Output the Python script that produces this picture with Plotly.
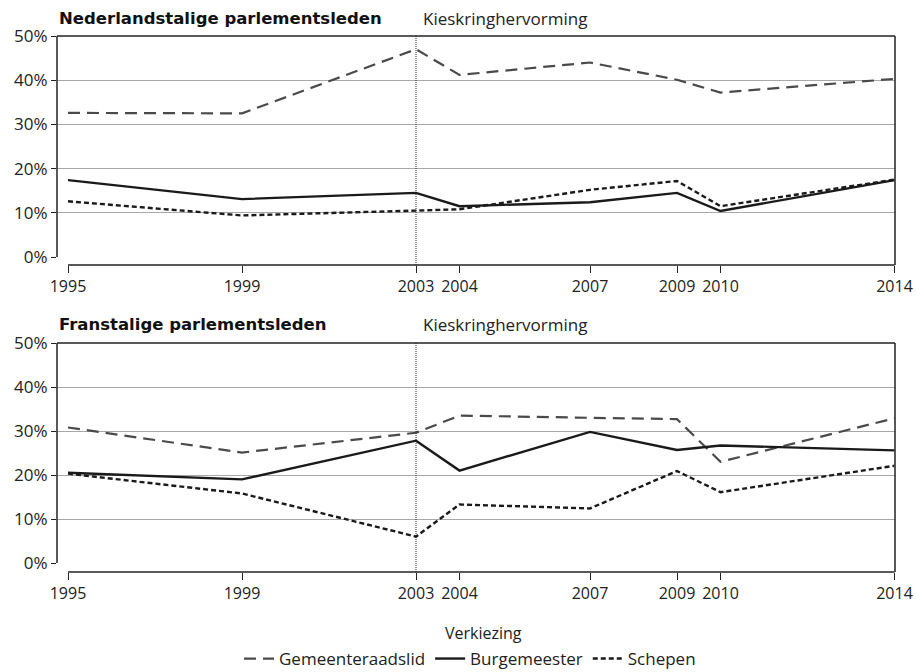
import plotly.graph_objects as go

years = [1995, 1999, 2003, 2004, 2007, 2009, 2010, 2014]
series_names = ["Gemeenteraadslid", "Burgemeester", "Schepen"]

nl_gemeenteraadslid = [32.6, 32.5, 47.0, 41.2, 44.0, 40.1, 37.2, 40.3]
nl_burgemeester = [17.4, 13.1, 14.5, 11.5, 12.4, 14.5, 10.4, 17.4]
nl_schepen = [12.6, 9.4, 10.5, 10.8, 15.2, 17.2, 11.5, 17.5]

fr_gemeenteraadslid = [30.8, 25.1, 29.6, 33.5, 33.0, 32.7, 23.0, 32.9]
fr_burgemeester = [20.5, 19.0, 27.8, 21.0, 29.8, 25.7, 26.7, 25.6]
fr_schepen = [20.3, 15.8, 6.0, 13.3, 12.4, 20.9, 16.1, 22.1]

panel_titles = ["Nederlandstalige parlementsleden", "Franstalige parlementsleden"]
reform_label = "Kieskringhervorming"
reform_year = 2003
x_title = "Verkiezing"
y_ticks = [0, 10, 20, 30, 40, 50]
y_ticklabels = ["0%", "10%", "20%", "30%", "40%", "50%"]

styles = [
    dict(color="#4a4a4a", width=2.2, dash="12px,7px"),
    dict(color="#1a1a1a", width=2.4, dash="solid"),
    dict(color="#1a1a1a", width=2.4, dash="5px,3px"),
]

W, H = 916, 672
FONT = "Open Sans"
TITLE_FONT = "DejaVu Sans"

def py(px):
    return (H - px) / H

x_left, x_right = 57, 895
px_per_year = 43.5
x0_data = years[0] - (68 - x_left) / px_per_year
x1_data = years[-1] + (x_right - 894.5) / px_per_year

panels = [
    dict(top=36, bottom=257, axis=265, data=[nl_gemeenteraadslid, nl_burgemeester, nl_schepen], title_y=18),
    dict(top=343, bottom=563, axis=572, data=[fr_gemeenteraadslid, fr_burgemeester, fr_schepen], title_y=325),
]

fig = go.Figure()
shapes = []
annotations = []
line_style = dict(color="#222", width=1.5)

for i, p in enumerate(panels):
    xa = "x" if i == 0 else "x2"
    ya = "y" if i == 0 else "y2"
    for j, name in enumerate(series_names):
        fig.add_trace(go.Scatter(
            x=years, y=p["data"][j], mode="lines", name=name,
            line=styles[j], xaxis=xa, yaxis=ya, showlegend=(i == 0),
        ))
    xkey = "xaxis" if i == 0 else "xaxis2"
    ykey = "yaxis" if i == 0 else "yaxis2"
    fig.layout[xkey] = dict(
        domain=[x_left / W, x_right / W], range=[x0_data, x1_data],
        anchor="free", position=py(p["axis"]), automargin=False,
        tickvals=years, ticktext=[str(y) for y in years],
        ticks="outside", ticklen=7, tickcolor="#222", tickwidth=1.3,
        showline=False, showgrid=False, zeroline=False,
        tickfont=dict(family=FONT, size=16, color="#222"),
    )
    fig.layout[ykey] = dict(
        domain=[py(p["bottom"]), py(p["top"])], range=[0, 50],
        anchor=xa, tickvals=y_ticks, ticktext=y_ticklabels, automargin=False,
        ticks="outside", ticklen=5, tickcolor="#222", tickwidth=1.3,
        showline=False,
        showgrid=True, gridcolor="#a8a8a8", gridwidth=1, zeroline=False,
        tickfont=dict(family=FONT, size=17, color="#222"),
    )
    # x axis line spanning first to last election
    shapes.append(dict(type="line", xref=xa, yref="paper", x0=years[0], x1=years[-1],
                       y0=py(p["axis"]), y1=py(p["axis"]), line=line_style))
    # left border (0% to 50%)
    shapes.append(dict(type="line", xref="paper", yref="paper", x0=x_left / W, x1=x_left / W,
                       y0=py(p["bottom"]), y1=py(p["top"]), line=line_style))
    # top border
    shapes.append(dict(type="line", xref="paper", yref="paper", x0=x_left / W, x1=x_right / W,
                       y0=py(p["top"]), y1=py(p["top"]), line=line_style))
    # right border
    shapes.append(dict(type="line", xref="paper", yref="paper", x0=x_right / W, x1=x_right / W,
                       y0=py(p["top"]), y1=py(p["axis"]), line=line_style))
    # reform line
    shapes.append(dict(type="line", xref=xa, yref="paper", x0=reform_year, x1=reform_year,
                       y0=py(p["top"]), y1=py(p["axis"]), line=dict(color="#222", width=1, dash="1px,1px")))
    annotations.append(dict(text="<b>" + panel_titles[i] + "</b>", xref="paper", yref="paper",
                            x=x_left / W, y=py(p["title_y"]), xanchor="left", yanchor="middle",
                            showarrow=False, font=dict(family=TITLE_FONT, size=16.5, color="#111")))
    annotations.append(dict(text=reform_label, xref=xa, yref="paper",
                            x=reform_year, xshift=5, y=py(p["title_y"]), xanchor="left", yanchor="middle",
                            showarrow=False, font=dict(family=FONT, size=17, color="#222")))

annotations.append(dict(text=x_title, xref="paper", yref="paper", x=483 / W, y=py(633),
                        xanchor="center", yanchor="middle", showarrow=False,
                        font=dict(family=FONT, size=16, color="#222")))

fig.update_layout(
    width=W, height=H, margin=dict(l=0, r=0, t=0, b=0, autoexpand=False),
    paper_bgcolor="white", plot_bgcolor="white",
    shapes=shapes, annotations=annotations,
    legend=dict(orientation="h", x=470 / W, xanchor="center", y=py(659), yanchor="middle",
                font=dict(family=FONT, size=17, color="#222"), itemwidth=30,
                bgcolor="rgba(0,0,0,0)"),
)

fig.write_html(
    "out.html",
    config={"displayModeBar": False},
    post_script="document.body.style.margin='0';document.body.style.overflow='hidden';",
)
